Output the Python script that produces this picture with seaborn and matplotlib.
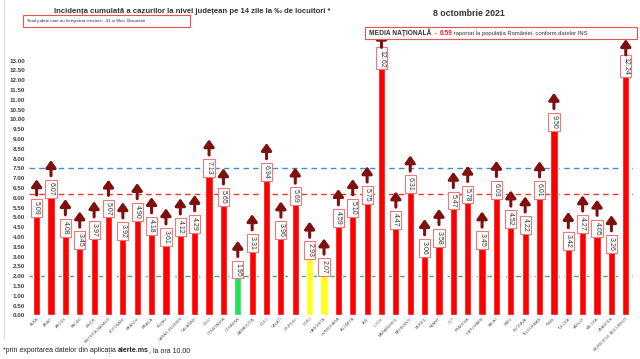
"""Incidenta cumulata pe 14 zile la nivel judetean - 8 octombrie 2021."""

import matplotlib
matplotlib.use("Agg")
import matplotlib.pyplot as plt
from matplotlib.lines import Line2D
from matplotlib.patches import Rectangle
from matplotlib.offsetbox import TextArea, HPacker, AnchoredOffsetbox
import seaborn as sns

sns.set_theme(style="white")
plt.rcParams["font.family"] = ["Liberation Sans", "DejaVu Sans"]

# Data
counties = [
    "ALBA", "ARAD", "ARGEȘ", "BACĂU", "BIHOR", "BISTRIȚA-NĂSĂUD", "BOTOȘANI",
    "BRAȘOV", "BRĂILA", "BUZĂU", "CARAȘ-SEVERIN", "CĂLĂRAȘI", "CLUJ",
    "CONSTANȚA", "COVASNA", "DÂMBOVIȚA", "DOLJ", "GALAȚI", "GIURGIU", "GORJ",
    "HARGHITA", "HUNEDOARA", "IALOMIȚA", "IAȘI", "ILFOV", "MARAMUREȘ",
    "MEHEDINȚI", "MUREȘ", "NEAMȚ", "OLT", "PRAHOVA", "SATU MARE", "SĂLAJ",
    "SIBIU", "SUCEAVA", "TELEORMAN", "TIMIȘ", "TULCEA", "VASLUI", "VÂLCEA",
    "VRANCEA", "MUNICIPIUL BUCUREȘTI",
]
incidence = [
    5.09, 6.07, 4.08, 3.45, 3.97, 5.07, 3.92, 4.90, 4.18, 3.61, 4.12, 4.29,
    7.13, 5.65, 1.95, 3.31, 6.94, 3.96, 5.69, 2.93, 2.07, 4.59, 5.10, 5.75,
    12.62, 4.47, 6.31, 3.06, 3.58, 5.47, 5.78, 3.45, 6.03, 4.52, 4.22, 6.01,
    9.50, 3.42, 4.27, 4.05, 3.26, 12.24,
]
bar_colors = ["#ff0000"] * len(counties)
bar_colors[14] = "#22e05a"   # COVASNA
bar_colors[19] = "#ffff1a"   # GORJ
bar_colors[20] = "#ffff1a"   # HARGHITA

thresholds = [7.5, 6.2, 2.0]
threshold_colors = ["#3f8fd8", "#ff3030", "#3cb35a"]
y_ticks = [i * 0.5 for i in range(27)]

fig = plt.figure(figsize=(6.4, 3.59), dpi=100)
ax = fig.add_axes([0.046, 0.1217, 0.943, 0.737])

for level, col in zip(thresholds, threshold_colors):
    ax.axhline(level, color=col, lw=1.0, ls=(0, (4, 3)), zorder=0)

sns.barplot(x=counties, y=incidence, hue=counties, palette=bar_colors,
            legend=False, width=0.5, saturation=1, ax=ax, zorder=2)

for i, v in enumerate(incidence):
    ax.annotate(f"{v:.2f}", xy=(i, v), xytext=(0, 0.5), textcoords="offset points",
                rotation=-90, ha="center", va="bottom", fontsize=5, color="#333333",
                zorder=4,
                bbox=dict(boxstyle="square,pad=0.3", fc="white", ec="#f07878", lw=0.8))
    ax.annotate("", xy=(i, v + 1.85), xytext=(i, v + 1.05),
                arrowprops=dict(arrowstyle="-|>,head_width=0.25,head_length=0.35",
                                lw=2.2, color="#7f1010", shrinkA=0, shrinkB=0),
                annotation_clip=False, zorder=4)

ax.set_ylim(0, 13.5)
ax.set_xlim(-0.5, len(counties) - 0.5)
ax.set_yticks(y_ticks)
ax.set_yticklabels([f"{t:.2f}" for t in y_ticks], fontsize=4.5,
                   color="#404040", fontweight="bold")
ax.tick_params(axis="y", length=0, pad=3)
ax.tick_params(axis="x", length=0, pad=1)
ax.set_xticks(range(len(counties)))
ax.set_xticklabels(counties, rotation=45, ha="right", rotation_mode="anchor",
                   fontsize=2.8, color="#555555")
for side in ["top", "right", "left", "bottom"]:
    ax.spines[side].set_visible(False)
ax.set_xlabel("")
ax.set_ylabel("")

W, H = 640, 359


def add_row(parts, x, y, loc="center left"):
    """Place a row of differently styled text pieces in figure coordinates."""
    areas = [TextArea(t, textprops=p) for t, p in parts]
    box = AnchoredOffsetbox(loc=loc, child=HPacker(children=areas, pad=0, sep=0),
                            bbox_to_anchor=(x, y), bbox_transform=fig.transFigure,
                            frameon=False, pad=0, borderpad=0)
    fig.add_artist(box)


def add_frame(x0, y0, x1, y1):
    """Red outline in pixel coordinates (origin top-left)."""
    fig.add_artist(Rectangle((x0 / W, 1 - y1 / H), (x1 - x0) / W, (y1 - y0) / H,
                             transform=fig.transFigure, fc="white", ec="#f05050",
                             lw=0.8, zorder=5))


# faint border of the pasted chart on the left
fig.add_artist(Line2D([4 / W, 4 / W], [1 - 338 / H, 1.0], transform=fig.transFigure,
                      color="#dddddd", lw=0.8))

# Titles and text boxes
fig.text(0.30, 0.978, "Incidența cumulată a cazurilor la nivel județean pe 14 zile la ‰ de locuitori *",
         ha="center", va="top", fontsize=5.6, fontweight="bold", color="#333333")
fig.text(0.733, 0.974, "8 octombrie 2021", ha="center", va="top", fontsize=6.3,
         fontweight="bold", color="#333333")

add_frame(23, 15, 190, 27)
add_row([("Total județe care au înregistrat creștere:  41 și Mun. București",
          dict(fontsize=3.2, color="#333333"))], 27 / W, 1 - 21 / H)

add_frame(365, 27, 637, 39)
add_row([("MEDIA NAȚIONALĂ", dict(fontsize=4.8, fontweight="bold", color="#333333")),
         ("  - ", dict(fontsize=4.8, fontweight="bold", color="#ff2020")),
         ("6.59", dict(fontsize=4.8, fontweight="bold", color="#ff2020")),
         (" raportat la populația României, conform datelor INS",
          dict(fontsize=4.2, color="#333333"))], 369 / W, 1 - 33 / H)

add_row([("*prin exportarea datelor din aplicația ", dict(fontsize=5.0, color="#222222")),
         ("alerte.ms", dict(fontsize=5.0, fontweight="bold", color="#222222")),
         (", la ora 10.00", dict(fontsize=5.0, color="#222222"))], 3 / W, 1 - 351 / H)

fig.savefig("out.png", dpi=100)
